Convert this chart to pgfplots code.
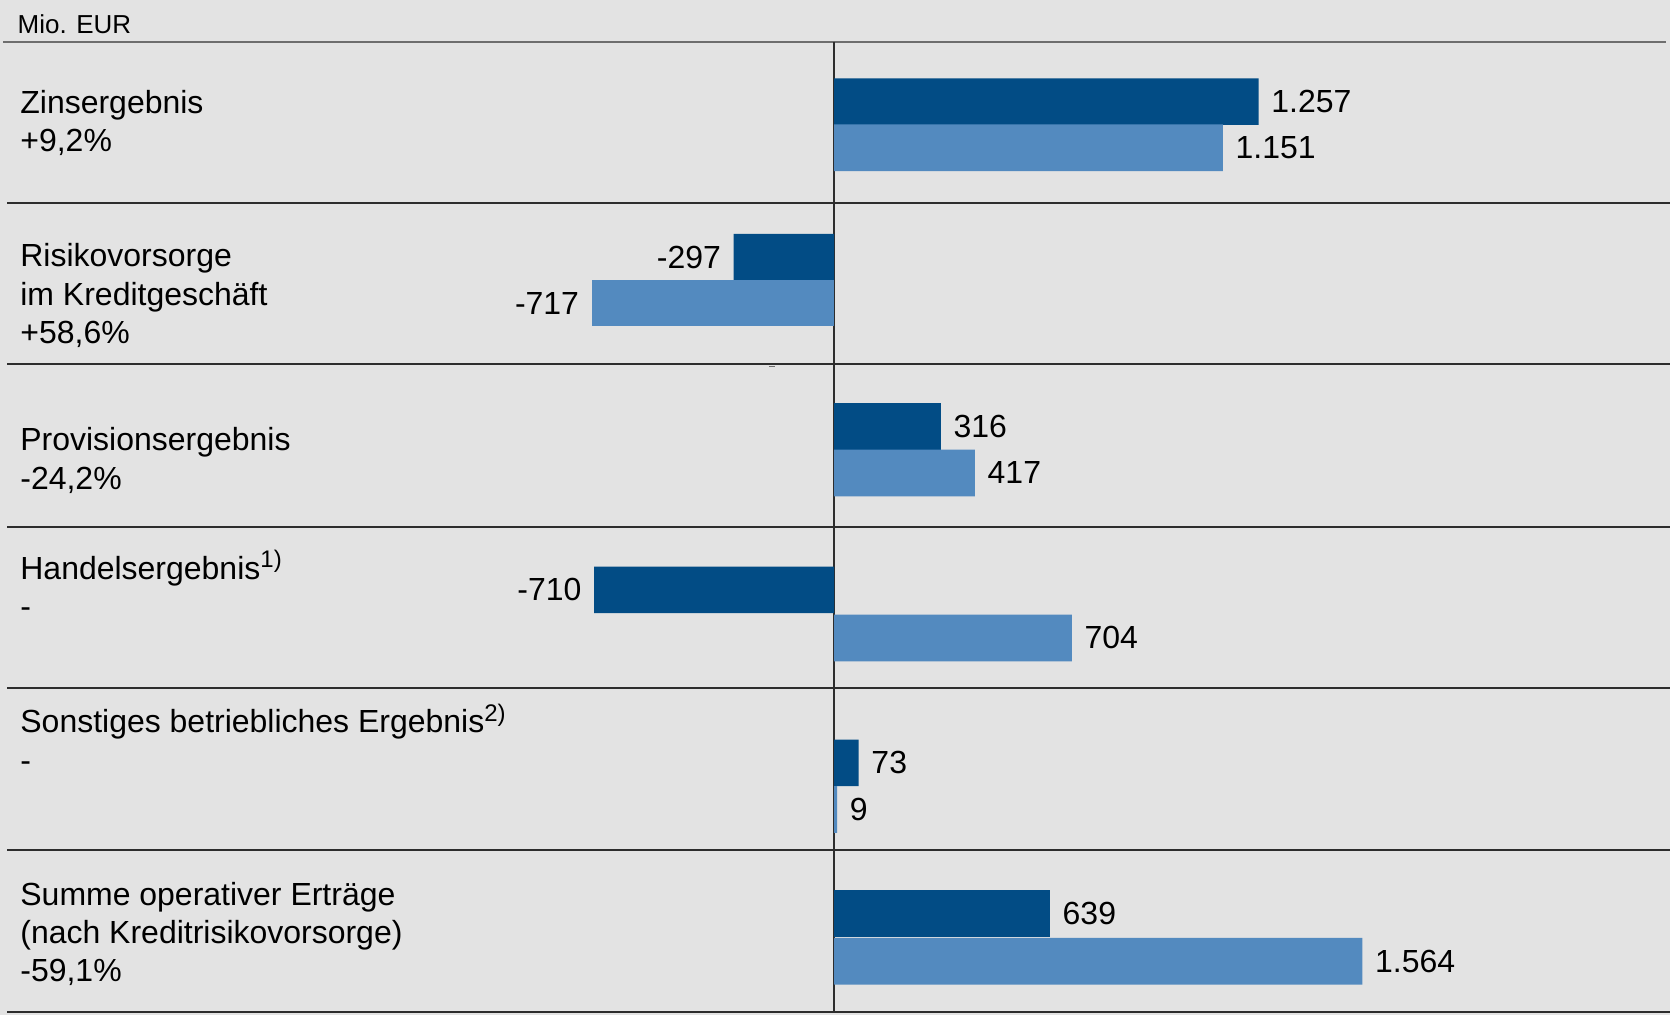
\documentclass[border=0pt]{standalone}
\usepackage{fontspec}
\setmainfont{Liberation Sans}
\usepackage{pgfplots}
\usepackage{pgfplotstable}
\pgfplotsset{compat=1.18}

\definecolor{hintergrund}{RGB}{227,227,227}
\definecolor{dunkelblau}{RGB}{2,76,133}
\definecolor{hellblau}{RGB}{83,138,191}
\definecolor{linie}{RGB}{45,45,45}
\definecolor{linieoben}{RGB}{110,110,110}

% wert in Mio. EUR, pos = Balkenmitte (Bildzeile, von oben gezaehlt)
\pgfplotstableread{
wert pos label
1257 101.7 1.257
-297 257.3 -297
316 426.8 316
-710 590.2 -710
73 763.3 73
639 914.0 639
}\aktuell

\pgfplotstableread{
wert pos label
1151 147.8 1.151
-717 303.3 -717
417 473.2 417
704 638.3 704
9 810.0 9
1564 961.7 1.564
}\vorjahr

\pgfplotsset{
    pos/.style={restrict x to domain=0:5000,
        every node near coord/.append style={anchor=west}},
    neg/.style={restrict x to domain=-5000:0,
        every node near coord/.append style={anchor=east}},
}

\begin{document}
\begin{tikzpicture}[font=\fontsize{8}{9.6}\selectfont]
\begin{axis}[
    width=417.75pt, height=254pt, scale only axis,
    xmin=-2469, xmax=2475,
    ymin=0, ymax=1016, y dir=reverse,
    axis lines=none, clip=false,
    axis background/.style={fill=hintergrund},
    xbar, bar width=46.7, bar shift=0pt,
    point meta=explicit symbolic,
    nodes near coords,
    every node near coord/.append style={
        text=black, font=\fontsize{8}{9.6}\selectfont, inner sep=3pt},
]
% Trennlinien
\draw[linieoben, line width=0.5pt] (axis cs:-2460,41.7) -- (axis cs:2462,41.7);
\pgfplotsinvokeforeach{203.3,364.3,527.5,688.7,850.4,1012.3}{
    \draw[linie, line width=0.45pt] (axis cs:-2448,#1) -- (axis cs:2475,#1);
}
\draw[linie, line width=0.4pt] (axis cs:0,41.7) -- (axis cs:0,1013.5);
\draw[linieoben, line width=0.4pt] (axis cs:-193,366.8) -- (axis cs:-175,366.8);

\addplot[fill=dunkelblau, draw=none, pos] table[x=wert, y=pos, meta=label] {\aktuell};
\addplot[fill=dunkelblau, draw=none, neg] table[x=wert, y=pos, meta=label] {\aktuell};
\addplot[fill=hellblau, draw=none, pos] table[x=wert, y=pos, meta=label] {\vorjahr};
\addplot[fill=hellblau, draw=none, neg] table[x=wert, y=pos, meta=label] {\vorjahr};

\node[anchor=base west, inner sep=0pt, font=\fontsize{6.5}{7.8}\selectfont] at (axis cs:-2419,33.3) {Mio. EUR};

\node[anchor=base west, inner sep=0pt] at (axis cs:-2411,113.3) {Zinsergebnis};
\node[anchor=base west, inner sep=0pt] at (axis cs:-2411,151.7) {+9,2\%};

\node[anchor=base west, inner sep=0pt] at (axis cs:-2411,266.8) {Risikovorsorge};
\node[anchor=base west, inner sep=0pt] at (axis cs:-2411,305.2) {im Kreditgeschäft};
\node[anchor=base west, inner sep=0pt] at (axis cs:-2411,343.6) {+58,6\%};

\node[anchor=base west, inner sep=0pt] at (axis cs:-2411,451.2) {Provisionsergebnis};
\node[anchor=base west, inner sep=0pt] at (axis cs:-2411,489.6) {-24,2\%};

\node[anchor=base west, inner sep=0pt] at (axis cs:-2411,579.5) {Handelsergebnis\textsuperscript{1)}};
\node[anchor=base west, inner sep=0pt] at (axis cs:-2411,617.9) {-};

\node[anchor=base west, inner sep=0pt] at (axis cs:-2411,733.3) {Sonstiges betriebliches Ergebnis\textsuperscript{2)}};
\node[anchor=base west, inner sep=0pt] at (axis cs:-2411,771.7) {-};

\node[anchor=base west, inner sep=0pt] at (axis cs:-2411,905.6) {Summe operativer Erträge};
\node[anchor=base west, inner sep=0pt] at (axis cs:-2411,943.9) {(nach Kreditrisikovorsorge)};
\node[anchor=base west, inner sep=0pt] at (axis cs:-2411,982.2) {-59,1\%};
\end{axis}
\end{tikzpicture}
\end{document}
